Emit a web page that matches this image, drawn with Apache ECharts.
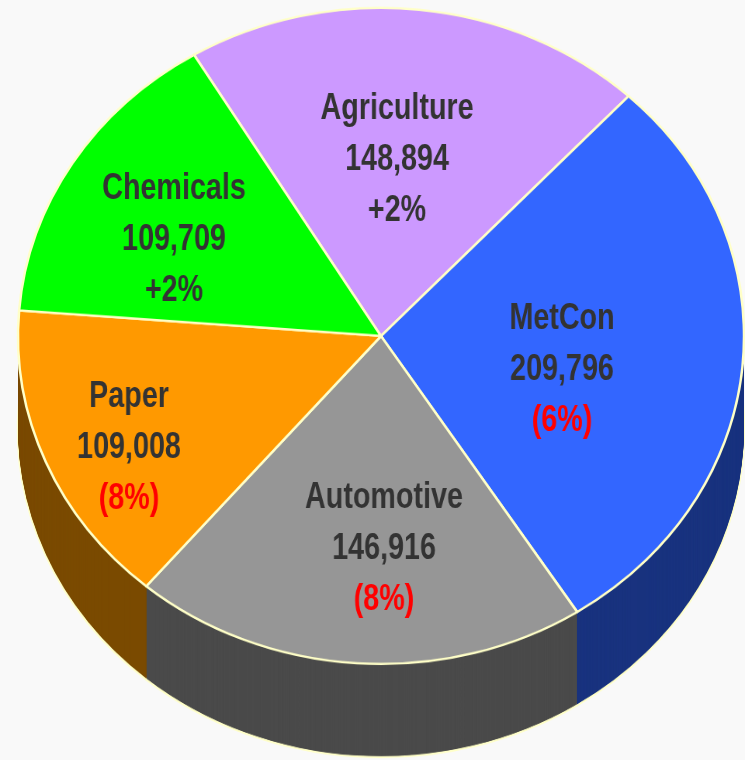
<!DOCTYPE html>
<html>
<head>
<meta charset="utf-8">
<script src="https://cdn.jsdelivr.net/npm/echarts@6/dist/echarts.min.js"></script>
<style>
  html, body { margin: 0; padding: 0; background: #f9f9f9; }
  #wrap { position: relative; width: 745px; height: 760px; overflow: hidden; background: #f9f9f9; }
  #disk { position: absolute; left: 0; top: 0; width: 745px; transform-origin: 0 0; }
  #text { position: absolute; left: 0; top: 0; height: 760px; transform-origin: 0 0; }
</style>
</head>
<body>
<div id="wrap">
  <div id="disk"></div>
  <div id="text"></div>
</div>
<script>
// Carloads by commodity group, with year-over-year change in percent
const categories = ['Agriculture', 'MetCon', 'Automotive', 'Paper', 'Chemicals'];
const carloads   = [148894, 209796, 146916, 109008, 109709];
const changePct  = [2, -6, -8, -8, 2];

// Styling
const faceColors = ['#CC99FF', '#3366FF', '#969696', '#FF9900', '#00FF00'];
const sideColors = ['#664C80', '#19337F', '#4A4A4A', '#7A4A00', '#008000'];
const edgeColor  = '#FFFFC8';
const FONT = '"Liberation Sans", Arial, sans-serif';

// Disk geometry (screen pixels); the disk is drawn round and squashed vertically
const TILT = 0.9036;
const CX = 381, CY = 336, R = 363, DEPTH = 93;
const START = 121;
// Labels use a condensed face: regular glyphs narrowed horizontally
const NARROW = 0.776;

const diskEl = document.getElementById('disk');
diskEl.style.height = Math.round(760 / TILT) + 'px';
diskEl.style.transform = 'scaleY(' + TILT + ')';

const textEl = document.getElementById('text');
textEl.style.width = Math.round(745 / NARROW) + 'px';
textEl.style.transform = 'scaleX(' + NARROW + ')';

const sliceData = (colors) => categories.map((name, i) => ({
  name: name,
  value: carloads[i],
  itemStyle: { color: colors[i] }
}));

const basePie = {
  type: 'pie',
  radius: R,
  startAngle: START,
  clockwise: true,
  silent: true,
  animation: false,
  avoidLabelOverlap: false,
  label: { show: false },
  labelLine: { show: false },
  emphasis: { disabled: true }
};

// Side wall: stacked copies of the pie, deepest first
const steps = Math.ceil(DEPTH / TILT);
const diskSeries = [];
for (let d = steps; d >= 1; d--) {
  diskSeries.push(Object.assign({}, basePie, {
    center: [CX, CY / TILT + d],
    z: steps - d + 1,
    itemStyle: d === steps
      ? { borderColor: edgeColor, borderWidth: 2.5 }
      : { borderWidth: 0 },
    data: sliceData(sideColors)
  }));
}
// Top face
diskSeries.push(Object.assign({}, basePie, {
  center: [CX, CY / TILT],
  z: steps + 10,
  itemStyle: { borderColor: edgeColor, borderWidth: 2.5 },
  data: sliceData(faceColors)
}));

const disk = echarts.init(diskEl, null, { renderer: 'canvas' });
disk.setOption({ backgroundColor: 'transparent', series: diskSeries });

// Label block centres on screen, one per slice
const labelAt = [[397, 160], [562, 370], [384, 549], [129, 448], [174, 240]];
const txt = { fontFamily: FONT, fontSize: 37, fontWeight: 'bold', color: '#333333', lineHeight: 51 };

const text = echarts.init(textEl, null, { renderer: 'canvas' });
text.setOption({
  backgroundColor: 'transparent',
  series: [Object.assign({}, basePie, {
    center: [CX / NARROW, CY],
    itemStyle: { color: 'rgba(0,0,0,0)', borderWidth: 0 },
    label: {
      show: true,
      position: 'inside',
      formatter: (p) => {
        const ch = changePct[p.dataIndex];
        const chText = ch >= 0 ? '{up|+' + ch + '%}' : '{down|(' + Math.abs(ch) + '%)}';
        return '{n|' + p.name + '}\n{n|' + echarts.format.addCommas(p.value) + '}\n' + chText;
      },
      rich: {
        n: txt,
        up: txt,
        down: Object.assign({}, txt, { color: '#FF0000' })
      }
    },
    labelLayout: (p) => ({
      x: labelAt[p.dataIndex][0] / NARROW,
      y: labelAt[p.dataIndex][1],
      align: 'center',
      verticalAlign: 'middle'
    }),
    data: categories.map((name, i) => ({ name: name, value: carloads[i] }))
  })]
});
</script>
</body>
</html>
